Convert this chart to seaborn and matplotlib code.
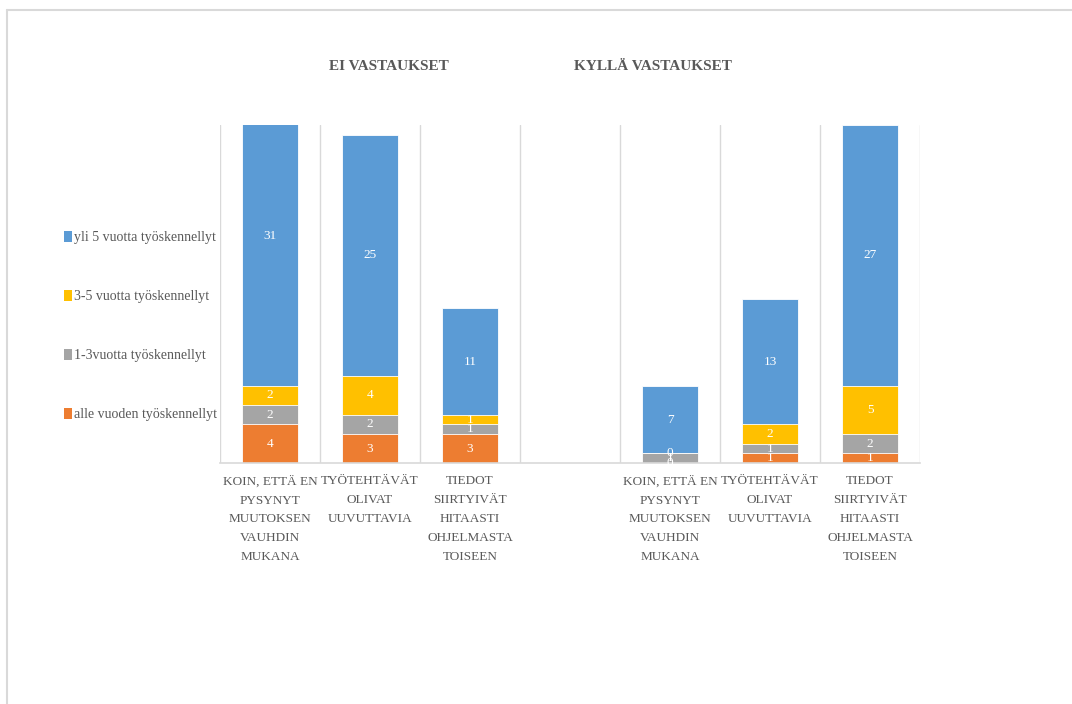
import matplotlib
matplotlib.use("Agg")
import matplotlib.pyplot as plt
from matplotlib.patches import Patch
from matplotlib.lines import Line2D
import seaborn as sns
import pandas as pd
import numpy as np

# ---- data ----
keys = ["ei1", "ei2", "ei3", "gap", "ky1", "ky2", "ky3"]
tick_labels = [
    "KOIN, ETTÄ EN\nPYSYNYT\nMUUTOKSEN\nVAUHDIN\nMUKANA",
    "TYÖTEHTÄVÄT\nOLIVAT\nUUVUTTAVIA",
    "TIEDOT\nSIIRTYIVÄT\nHITAASTI\nOHJELMASTA\nTOISEEN",
    "",
    "KOIN, ETTÄ EN\nPYSYNYT\nMUUTOKSEN\nVAUHDIN\nMUKANA",
    "TYÖTEHTÄVÄT\nOLIVAT\nUUVUTTAVIA",
    "TIEDOT\nSIIRTYIVÄT\nHITAASTI\nOHJELMASTA\nTOISEEN",
]
alle_vuoden = [4, 3, 3, np.nan, 0, 1, 1]
v1_3 = [2, 2, 1, np.nan, 1, 1, 2]
v3_5 = [2, 4, 1, np.nan, 0, 2, 5]
yli5 = [31, 25, 11, np.nan, 7, 13, 27]
series_names = ["alle vuoden työskennellyt", "1-3vuotta työskennellyt",
                "3-5 vuotta työskennellyt", "yli 5 vuotta työskennellyt"]
colors = ["#ED7D31", "#A5A5A5", "#FFC000", "#5B9BD5"]
group_titles = ["EI VASTAUKSET", "KYLLÄ VASTAUKSET"]

sns.set_theme(style="white")
plt.rcParams["font.family"] = ["Liberation Serif", "DejaVu Serif"]

series = [alle_vuoden, v1_3, v3_5, yli5]
arr = np.array(series, dtype=float)
cum = np.cumsum(np.nan_to_num(arr), axis=0)
cum[:, np.isnan(arr[0])] = np.nan

fig = plt.figure(figsize=(10.72, 7.04), dpi=100)
ax = fig.add_axes([220/1072, 1-463/704, 700/1072, (463-125)/704])

for i in range(3, -1, -1):
    df = pd.DataFrame({"k": keys, "v": cum[i]})
    sns.barplot(data=df, x="k", y="v", order=keys, color=colors[i],
                saturation=1, width=0.56, ax=ax, errorbar=None, zorder=3,
                edgecolor="white", linewidth=0.6)

# value labels
for j in range(len(keys)):
    if np.isnan(arr[0, j]):
        continue
    base = 0.0
    for i in range(4):
        val = arr[i, j]
        mid = base + val / 2
        ax.text(j, mid, f"{int(val)}", ha="center", va="center",
                color="white", fontsize=9.5, zorder=5, clip_on=False)
        base += val

ax.set_ylim(0, 35)
ax.set_xlim(-0.5, 6.5)
ax.set_xlabel("")
ax.set_ylabel("")
ax.set_yticks([])
ax.set_xticks(range(len(keys)))
ax.set_xticklabels(tick_labels, fontsize=9.5, color="#595959", linespacing=1.75)
ax.tick_params(axis="x", length=0, pad=9)
for s in ["top", "right", "left"]:
    ax.spines[s].set_visible(False)
ax.spines["bottom"].set_color("#D9D9D9")
ax.spines["bottom"].set_linewidth(1.2)
ax.spines["bottom"].set_zorder(4)
for x in np.arange(-0.5, 7, 1.0):
    ax.axvline(x, color="#D9D9D9", lw=1.0, zorder=1)

# group titles
fig.text(389/1072, 1-66/704, group_titles[0], ha="center", va="center",
         fontsize=11, fontweight="bold", color="#595959")
fig.text(653/1072, 1-66/704, group_titles[1], ha="center", va="center",
         fontsize=11, fontweight="bold", color="#595959")

# legend
handles = [Patch(facecolor=colors[i], edgecolor="none", label=series_names[i])
           for i in [3, 2, 1, 0]]
fig.legend(handles=handles, loc="center left",
           bbox_to_anchor=(58/1072, 1-326/704), frameon=False,
           fontsize=10, labelcolor="#595959", handlelength=0.6,
           handleheight=0.8, handletextpad=0.15, labelspacing=3.3,
           borderaxespad=0)

# chart border
fig.add_artist(Line2D([7/1072, 1], [1-10/704, 1-10/704], transform=fig.transFigure,
                      color="#D9D9D9", lw=1.5))
fig.add_artist(Line2D([7/1072, 7/1072], [0, 1-10/704], transform=fig.transFigure,
                      color="#D9D9D9", lw=1.5))

fig.savefig("out.png", dpi=100)
